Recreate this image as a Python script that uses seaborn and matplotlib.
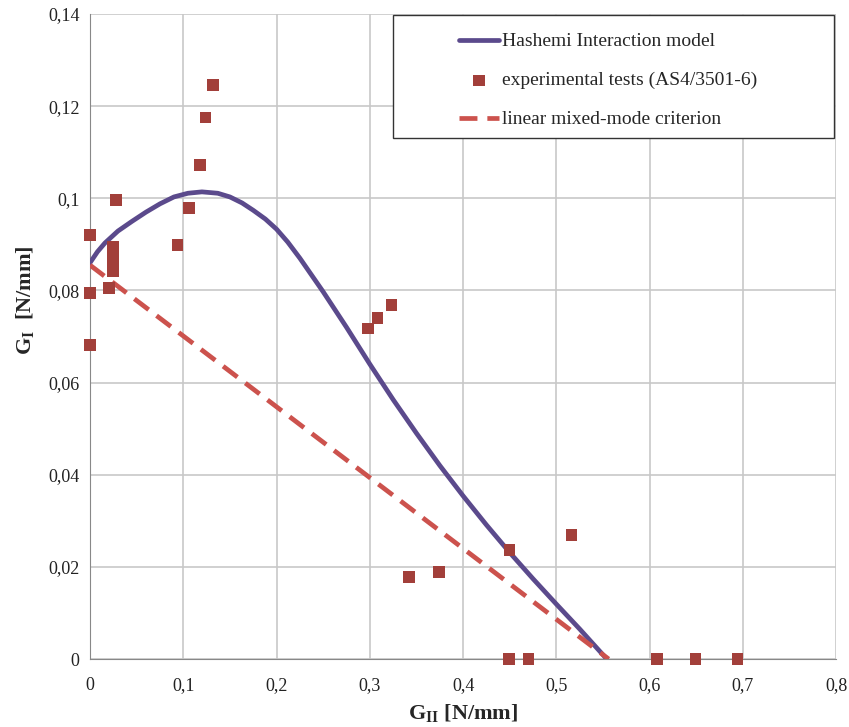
import numpy as np
import pandas as pd
import seaborn as sns
import matplotlib
matplotlib.use("Agg")
import matplotlib.pyplot as plt
from matplotlib.ticker import FuncFormatter
from matplotlib.patches import Rectangle

# Hashemi interaction model curve
hashemi_x = [0, 0.008, 0.016, 0.030, 0.045, 0.060, 0.075, 0.090, 0.105, 0.120, 0.137, 0.150, 0.163,
             0.175, 0.188, 0.200, 0.212, 0.225, 0.250, 0.275, 0.300, 0.325, 0.350, 0.375, 0.400,
             0.425, 0.450, 0.475, 0.500, 0.525, 0.554]
hashemi_y = [0.0860, 0.0884, 0.0903, 0.0929, 0.0950, 0.0970, 0.0988, 0.1003, 0.1011, 0.1014, 0.1011, 0.1003, 0.0990,
             0.0974, 0.0955, 0.0933, 0.0905, 0.0870, 0.0797, 0.0720, 0.0640, 0.0563, 0.0490, 0.0420, 0.0354,
             0.0291, 0.0231, 0.0174, 0.0119, 0.0065, 0.0]

# experimental tests (AS4/3501-6)
exp_x = [0, 0, 0, 0.0247, 0.0247, 0.0247, 0.0204, 0.028, 0.094, 0.106, 0.118, 0.124, 0.132,
         0.298, 0.308, 0.323, 0.342, 0.374, 0.450, 0.516, 0.449, 0.470, 0.608, 0.649, 0.694]
exp_y = [0.0920, 0.0794, 0.0682, 0.0894, 0.0868, 0.0842, 0.0805, 0.0996, 0.0899, 0.0979, 0.1072, 0.1176, 0.1246,
         0.0718, 0.0740, 0.0768, 0.0178, 0.0189, 0.0237, 0.0269, 0.0, 0.0, 0.0, 0.0, 0.0]

# linear mixed-mode criterion
linear_x = [0, 0.556]
linear_y = [0.0855, 0.0]

sns.set_style("white")
plt.rcParams['font.family'] = ['Liberation Serif', 'DejaVu Serif']
plt.rcParams['mathtext.fontset'] = 'custom'
plt.rcParams['mathtext.rm'] = 'Liberation Serif'
plt.rcParams['mathtext.bf'] = 'Liberation Serif:bold'

fig = plt.figure(figsize=(8.49, 7.27), dpi=100)
ax = fig.add_axes([0.106, 0.0935, 0.879, 0.8872])

hashemi = pd.DataFrame({'x': hashemi_x, 'y': hashemi_y})
exp = pd.DataFrame({'x': exp_x, 'y': exp_y})
linear = pd.DataFrame({'x': linear_x, 'y': linear_y})

sns.lineplot(data=hashemi, x='x', y='y', ax=ax, color='#5b4a8c', linewidth=3.4,
             label='Hashemi Interaction model', zorder=3, sort=False)
ax.lines[-1].set_solid_joinstyle('round')
sns.scatterplot(data=exp, x='x', y='y', ax=ax, marker='s', color='#a23f3a', s=68,
                edgecolor='none', label='experimental tests (AS4/3501-6)', zorder=4, clip_on=False)
sns.lineplot(data=linear, x='x', y='y', ax=ax, color='#cc524d', linewidth=3.4,
             label='linear mixed-mode criterion', zorder=3)
ax.lines[-1].set_linestyle((0, (3.8, 2.1)))

ax.set_xlim(0, 0.8)
ax.set_ylim(0, 0.14)
ax.set_xticks(np.arange(0, 0.81, 0.1))
ax.set_yticks(np.arange(0, 0.141, 0.02))

def comma(v, pos):
    s = ('%.2f' % v).rstrip('0').rstrip('.')
    return s.replace('.', ',')

ax.xaxis.set_major_formatter(FuncFormatter(comma))
ax.yaxis.set_major_formatter(FuncFormatter(comma))
ax.tick_params(axis='both', labelsize=13, colors='#222222')
ax.tick_params(axis='y', length=4, color='#888888', direction='out')
ax.tick_params(axis='x', length=0, pad=13)

ax.grid(True, color='#c8c8c8', linewidth=1.2)
ax.set_axisbelow(True)
for side in ['top', 'right']:
    ax.spines[side].set_visible(False)
ax.spines['left'].set_color('#888888')
ax.spines['bottom'].set_color('#888888')

ax.set_xlabel(r'$\mathbf{G_{II}}$ [N/mm]', fontsize=16, fontweight='bold', labelpad=6)
ax.set_ylabel(r'$\mathbf{G_{I}}$  [N/mm]', fontsize=16, fontweight='bold', labelpad=10)
ax.yaxis.set_label_coords(-0.073, 0.557)

# legend box drawn as a plain rectangle, legend entries placed inside it
box = Rectangle((0.406, 0.808), 0.591, 0.191, transform=ax.transAxes, facecolor='white',
                edgecolor='#333333', linewidth=1.0, zorder=5, clip_on=False)
ax.add_patch(box)
leg = ax.legend(loc='upper left', bbox_to_anchor=(0.494, 0.971), frameon=False,
                fontsize=14, handlelength=2.1, borderpad=0, labelspacing=1.1,
                handletextpad=0.15, borderaxespad=0)
leg.set_zorder(6)

fig.savefig('out.png', dpi=100)
